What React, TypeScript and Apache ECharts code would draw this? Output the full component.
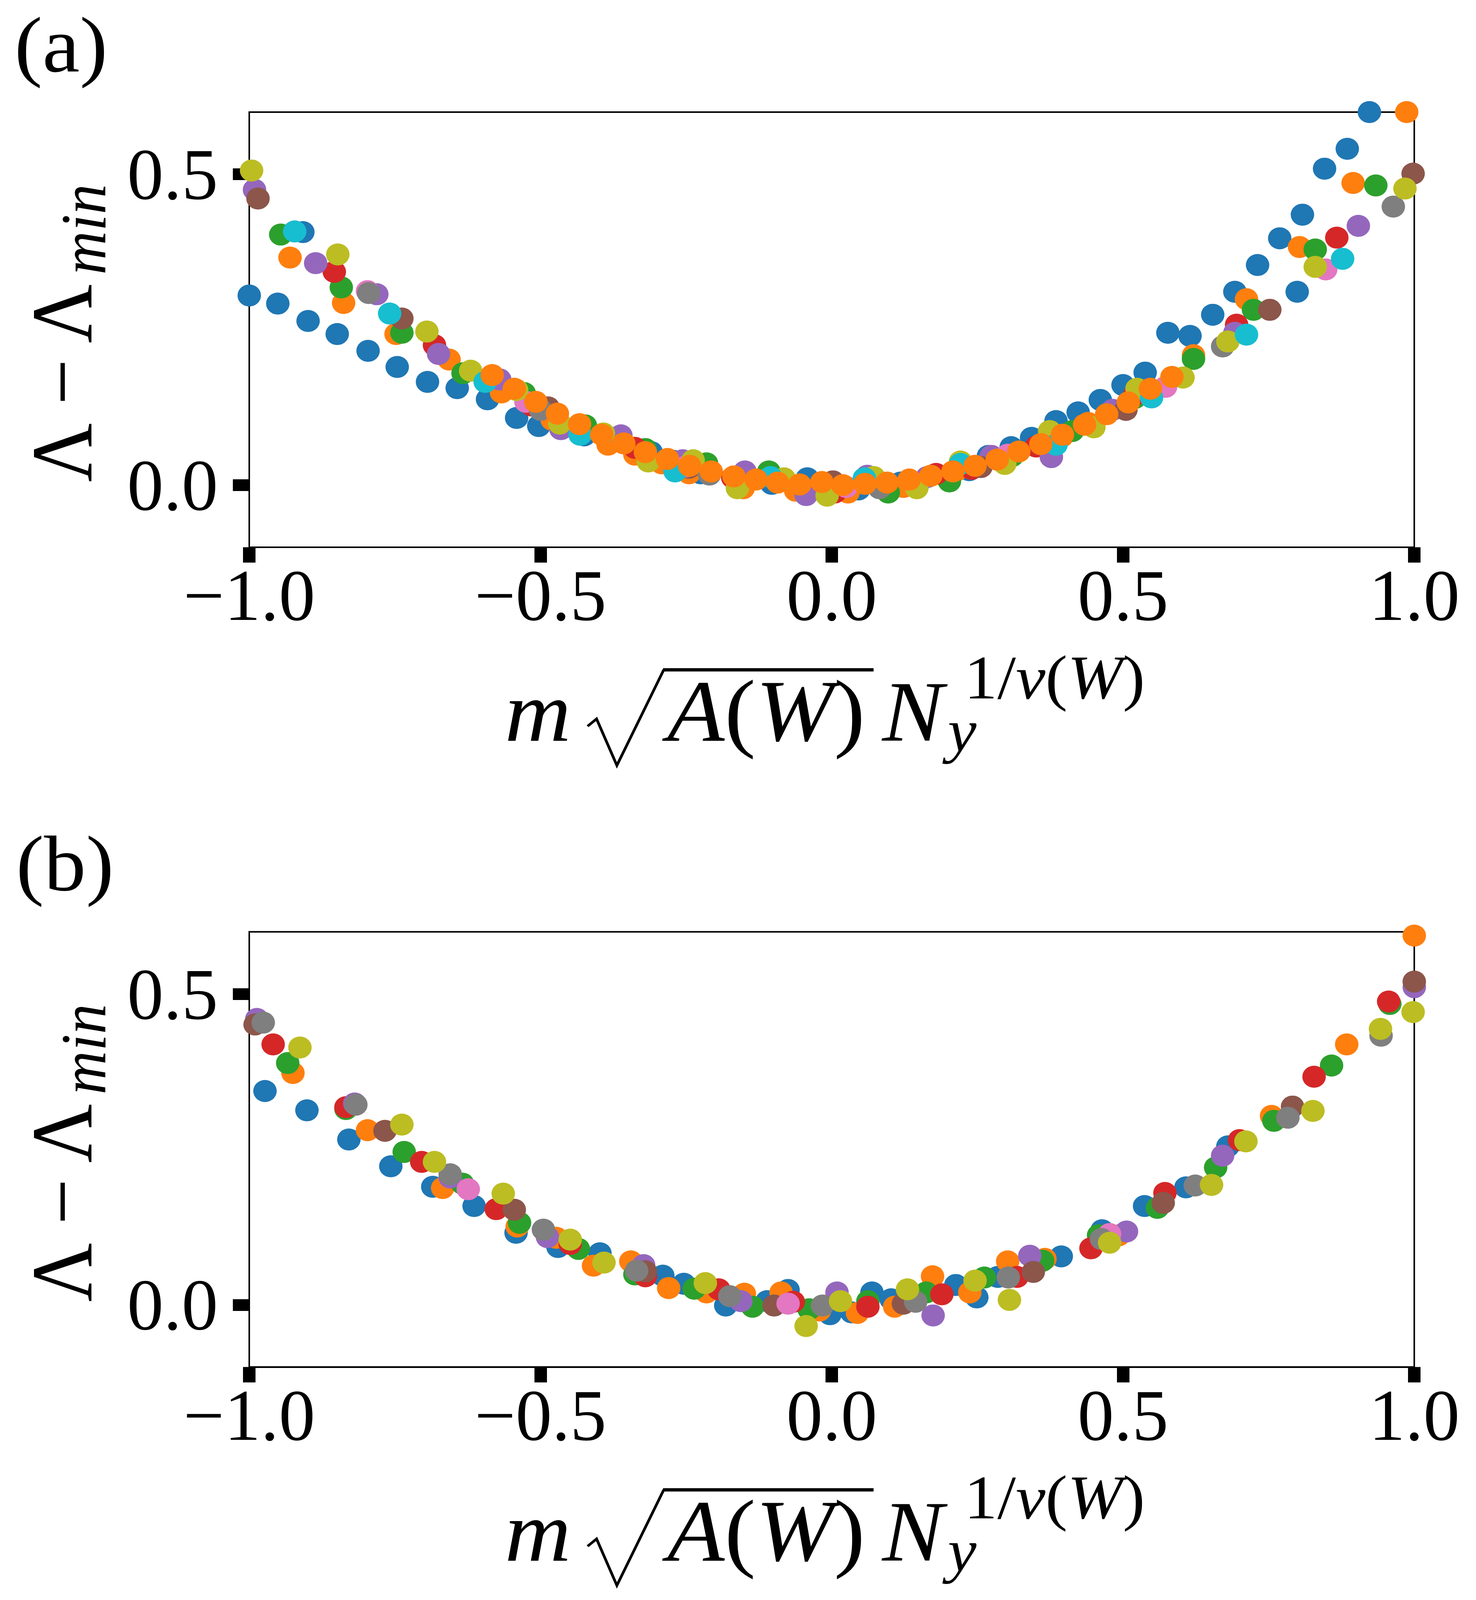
import React, { useEffect, useRef } from "react";
import * as echarts from "echarts";

const FONT = "'Liberation Serif', 'Times New Roman', serif";

const xTicks = [-1, -0.5, 0, 0.5, 1];
const yTicks = [0, 0.5];
const panelLabels = ["(a)", "(b)"];

const C0 = "#1f77b4", C1 = "#ff7f0e", C2 = "#2ca02c", C3 = "#d62728", C4 = "#9467bd";
const C5 = "#8c564b", C6 = "#e377c2", C7 = "#7f7f7f", C8 = "#bcbd22", C9 = "#17becf";

// ---------- panel (a) ----------
const aBlue = [
  [-1.0, 0.305], [-0.951, 0.292], [-0.899, 0.264], [-0.849, 0.243], [-0.796, 0.216], [-0.746, 0.19],
  [-0.694, 0.166], [-0.643, 0.156], [-0.591, 0.138], [-0.541, 0.108], [-0.503, 0.095],
  [-0.908, 0.407], [-0.569, 0.157], [-0.425, 0.08], [-0.31, 0.053], [-0.272, 0.039], [-0.225, 0.019],
  [-0.103, 0.002], [-0.042, 0.011], [0.046, -0.007], [0.118, 0.004], [0.148, 0.002],
  [0.236, 0.024], [0.269, 0.047], [0.308, 0.061], [0.343, 0.076], [0.385, 0.103], [0.423, 0.117],
  [0.461, 0.137], [0.5, 0.161], [0.538, 0.181], [0.577, 0.245], [0.615, 0.24], [0.654, 0.274],
  [0.692, 0.311], [0.731, 0.354], [0.769, 0.397], [0.808, 0.435], [0.846, 0.509], [0.885, 0.541],
  [0.923, 0.6], [0.799, 0.311],
];
const aOrange = [
  [-0.93, 0.366], [-0.838, 0.293], [-0.748, 0.243], [-0.657, 0.202], [-0.567, 0.149], [-0.48, 0.105],
  [-0.384, 0.065], [-0.338, 0.049], [-0.292, 0.035], [-0.245, 0.019], [-0.152, -0.005], [-0.062, -0.009],
  [0.028, -0.012], [0.123, -0.003], [0.215, 0.024], [0.305, 0.046], [0.395, 0.078], [0.44, 0.1],
  [0.53, 0.15], [0.621, 0.209], [0.712, 0.299], [0.803, 0.383], [0.895, 0.486], [0.987, 0.6],
];
const aGreen = [
  [-0.946, 0.403], [-0.842, 0.318], [-0.738, 0.245], [-0.633, 0.18], [-0.528, 0.148], [-0.423, 0.096],
  [-0.32, 0.058], [-0.215, 0.035], [-0.108, 0.022], [0.097, -0.012], [0.202, 0.006], [0.31, 0.047],
  [0.413, 0.087], [0.52, 0.14], [0.621, 0.203], [0.724, 0.282], [0.83, 0.379], [0.934, 0.482],
];
const aRed = [
  [-0.854, 0.343], [-0.682, 0.225], [-0.515, 0.128], [-0.338, 0.06], [-0.17, 0.012], [0.005, -0.012],
  [0.179, 0.018], [0.24, 0.026], [0.351, 0.062], [0.52, 0.145], [0.695, 0.258], [0.867, 0.398],
];
const aPurple = [
  [-0.991, 0.475], [-0.886, 0.357], [-0.781, 0.307], [-0.675, 0.211], [-0.57, 0.17], [-0.465, 0.09],
  [-0.362, 0.08], [-0.256, 0.04], [-0.149, 0.022], [-0.044, -0.016], [0.061, 0.015], [0.164, 0.013],
  [0.274, 0.047], [0.377, 0.045], [0.482, 0.121], [0.692, 0.245], [0.904, 0.417],
];
const aBrown = [
  [-0.985, 0.461], [-0.738, 0.268], [-0.487, 0.125], [-0.245, 0.028], [0.002, 0.006], [0.256, 0.029],
  [0.505, 0.121], [0.752, 0.282], [0.998, 0.501],
];
const aPink = [
  [-0.797, 0.312], [-0.525, 0.134], [-0.25, 0.03], [0.025, -0.003], [0.302, 0.049], [0.573, 0.158], [0.848, 0.347],
];
const aGray = [
  [-0.795, 0.309], [-0.5, 0.121], [-0.21, 0.017], [0.082, -0.005], [0.375, 0.08], [0.671, 0.223], [0.964, 0.448],
];
const aOlive = [
  [-0.996, 0.506], [-0.848, 0.371], [-0.695, 0.247], [-0.62, 0.184], [-0.541, 0.153], [-0.467, 0.099],
  [-0.392, 0.083], [-0.315, 0.038], [-0.238, 0.04], [-0.162, -0.005], [-0.082, 0.011], [-0.008, -0.017],
  [0.072, 0.013], [0.146, -0.005], [0.221, 0.038], [0.297, 0.034], [0.374, 0.087], [0.45, 0.093],
  [0.524, 0.155], [0.603, 0.173], [0.68, 0.231], [0.83, 0.351], [0.984, 0.477],
];
const aCyan = [
  [-0.922, 0.408], [-0.759, 0.276], [-0.595, 0.166], [-0.432, 0.081], [-0.269, 0.022], [-0.105, 0.013],
  [0.056, 0.011], [0.221, 0.034], [0.385, 0.065], [0.549, 0.141], [0.712, 0.242], [0.877, 0.364],
];
const aOrangeTop = [
  [-0.583, 0.177], [-0.545, 0.155], [-0.508, 0.134], [-0.471, 0.115], [-0.433, 0.098], [-0.395, 0.081],
  [-0.357, 0.067], [-0.32, 0.053], [-0.282, 0.042], [-0.244, 0.031], [-0.207, 0.022], [-0.168, 0.014],
  [-0.13, 0.009], [-0.093, 0.004], [-0.055, 0.001], [-0.017, 0.005], [0.019, 0.0], [0.057, 0.002],
  [0.095, 0.004], [0.133, 0.009], [0.17, 0.015], [0.208, 0.022], [0.246, 0.031], [0.284, 0.041],
  [0.321, 0.054], [0.359, 0.066], [0.396, 0.081], [0.434, 0.097], [0.472, 0.114], [0.509, 0.133],
  [0.547, 0.155], [0.584, 0.174],
];

// ---------- panel (b) ----------
const bBlue = [
  [-0.973, 0.344], [-0.901, 0.313], [-0.829, 0.266], [-0.757, 0.223], [-0.685, 0.19], [-0.614, 0.159],
  [-0.542, 0.116], [-0.47, 0.093], [-0.398, 0.083], [-0.29, 0.047], [-0.254, 0.034], [-0.182, -0.001],
  [-0.111, 0.006], [-0.075, 0.024], [-0.003, -0.015], [0.034, -0.012], [0.069, 0.02], [0.102, 0.009],
  [0.213, 0.032], [0.249, 0.012], [0.285, 0.045], [0.394, 0.078], [0.464, 0.12], [0.537, 0.159],
  [0.608, 0.189], [0.68, 0.255],
];
const bOrange = [
  [-0.925, 0.373], [-0.797, 0.281], [-0.668, 0.188], [-0.54, 0.126], [-0.473, 0.108], [-0.409, 0.063],
  [-0.345, 0.07], [-0.28, 0.027], [-0.215, 0.02], [-0.15, 0.018], [-0.087, 0.02], [-0.021, -0.009],
  [0.044, -0.013], [0.108, -0.003], [0.173, 0.046], [0.237, 0.02], [0.302, 0.07], [0.366, 0.074],
  [0.493, 0.112], [0.755, 0.304], [0.884, 0.419], [1.0, 0.594],
];
const bGreen = [
  [-0.934, 0.389], [-0.834, 0.315], [-0.734, 0.246], [-0.634, 0.195], [-0.536, 0.132], [-0.435, 0.09],
  [-0.338, 0.049], [-0.236, 0.026], [-0.136, -0.003], [-0.039, -0.007], [0.062, 0.006], [0.162, 0.02],
  [0.262, 0.044], [0.362, 0.071], [0.458, 0.112], [0.559, 0.156], [0.659, 0.221], [0.759, 0.296],
  [0.858, 0.385], [0.958, 0.484],
];
const bRed = [
  [-0.959, 0.419], [-0.834, 0.318], [-0.704, 0.23], [-0.576, 0.154], [-0.449, 0.098], [-0.32, 0.046],
  [-0.194, 0.025], [-0.066, 0.005], [0.062, -0.003], [0.189, 0.017], [0.318, 0.045], [0.445, 0.091],
  [0.572, 0.18], [0.7, 0.265], [0.828, 0.367], [0.956, 0.488],
];
const bPurple = [
  [-0.987, 0.46], [-0.819, 0.324], [-0.655, 0.205], [-0.488, 0.109], [-0.323, 0.064], [-0.156, 0.006],
  [0.009, 0.02], [0.174, -0.017], [0.34, 0.079], [0.506, 0.118], [0.671, 0.24], [1.0, 0.511],
];
const bBrown = [
  [-0.99, 0.451], [-0.767, 0.28], [-0.545, 0.153], [-0.32, 0.054], [-0.099, -0.001], [0.123, 0.002],
  [0.346, 0.053], [0.569, 0.164], [0.791, 0.319], [1.0, 0.52],
];
const bPink = [[-0.624, 0.186], [-0.075, 0.002], [0.477, 0.114]];
const bGray = [
  [-0.976, 0.454], [-0.817, 0.322], [-0.655, 0.21], [-0.495, 0.121], [-0.335, 0.055], [-0.175, 0.014],
  [-0.016, -0.001], [0.144, 0.005], [0.303, 0.044], [0.463, 0.106], [0.624, 0.192], [0.783, 0.301],
  [0.943, 0.433],
];
const bOlive = [
  [-0.913, 0.414], [-0.738, 0.29], [-0.682, 0.23], [-0.564, 0.179], [-0.449, 0.105], [-0.391, 0.068],
  [-0.217, 0.035], [-0.044, -0.034], [0.015, 0.006], [0.13, 0.025], [0.246, 0.039], [0.305, 0.008],
  [0.477, 0.1], [0.652, 0.193], [0.711, 0.263], [0.826, 0.312], [0.942, 0.444], [0.998, 0.471],
];

const panelA = [
  [aBlue, C0], [aOrange, C1], [aGreen, C2], [aRed, C3], [aPurple, C4], [aBrown, C5],
  [aPink, C6], [aGray, C7], [aOlive, C8], [aCyan, C9], [aOrangeTop, C1],
];
const panelB = [
  [bBlue, C0], [bOrange, C1], [bGreen, C2], [bRed, C3], [bPurple, C4], [bBrown, C5],
  [bPink, C6], [bGray, C7], [bOlive, C8],
];

// reference layout (3778 x 4368 design), y gets normalised to the real viewport height
const REF_W = 3778;
const REF_H = 4368;
const GRID_LEFT = 638;
const GRID_W = 2982;
const GRID_H = 1188;
const TOPS = [306, 2544];

const fmt = (v: number) => {
  const s = v.toFixed(1);
  return s.startsWith("-") ? "\u2212" + s.slice(1) : s;
};

const mid = (baseline: number, fs: number) => baseline - 0.3375 * fs;

function txt(x: number, y: number, text: string, fs: number, italic = false) {
  return {
    type: "text",
    x,
    y,
    style: {
      text,
      font: `${italic ? "italic " : ""}${fs}px ${FONT}`,
      fontSize: fs,
      fontFamily: FONT,
      fontStyle: italic ? "italic" : "normal",
      fill: "#000",
      align: "left",
      textAlign: "left",
      verticalAlign: "middle",
      textVerticalAlign: "middle",
    },
  };
}

function richMath(x: number, baseline: number, text: string, fs: number) {
  return {
    type: "text",
    x,
    y: mid(baseline, fs),
    style: {
      text,
      fill: "#000",
      align: "left",
      verticalAlign: "middle",
      rich: {
        i: { fontStyle: "italic", fontSize: fs, fontFamily: FONT, color: "#000" },
        r: { fontStyle: "normal", fontSize: fs, fontFamily: FONT, color: "#000" },
      },
    },
  };
}

function xTitle(dy: number) {
  const b = 2022 + dy;
  return [
    txt(1292, mid(b, 235), "m", 235, true),
    {
      type: "polyline",
      shape: { points: [[1504, b - 40], [1527, b - 60], [1579, b + 67], [1699, b - 194]] },
      style: { stroke: "#000", lineWidth: 7, fill: "none" },
    },
    {
      type: "line",
      shape: { x1: 1697, y1: b - 194, x2: 2236, y2: b - 194 },
      style: { stroke: "#000", lineWidth: 9 },
    },
    richMath(1708, b, "{i|A}{r|(}{i|W}{r|)}", 240),
    txt(2258, mid(b, 235), "N", 235, true),
    txt(2426, mid(b + 29, 165), "y", 165, true),
    richMath(2468, b - 115, "{r|1/}{i|\u03bd}{r|(}{i|W}{r|)}", 170),
  ];
}

function yTitle(dy: number) {
  return {
    type: "group",
    x: 234,
    y: 1316 + dy,
    rotation: Math.PI / 2,
    children: [
      txt(0, -0.3375 * 222, "\u039b \u2212 \u039b", 222, false),
      txt(566, 36 - 0.3375 * 165, "min", 165, true),
    ],
  };
}

function axesFor(idx: number, sy: number) {
  const xAxis = {
    type: "value",
    gridIndex: idx,
    min: -1,
    max: 1,
    interval: 0.5,
    axisLine: { show: true, onZero: false, lineStyle: { color: "#000", width: 4 } },
    axisTick: {
      show: true,
      inside: false,
      length: 42 * sy,
      customValues: xTicks,
      lineStyle: { color: "#000", width: 32 },
    },
    axisLabel: {
      show: true,
      customValues: xTicks,
      formatter: (v: number) => fmt(v),
      fontSize: 186,
      fontFamily: FONT,
      color: "#000",
      margin: 32 * sy,
      showMinLabel: true,
      showMaxLabel: true,
      hideOverlap: false,
    },
    splitLine: { show: false },
  };
  const yAxis = {
    type: "value",
    gridIndex: idx,
    min: -0.1,
    max: 0.6,
    axisLine: { show: true, onZero: false, lineStyle: { color: "#000", width: 4 } },
    axisTick: {
      show: true,
      inside: false,
      length: 42,
      customValues: yTicks,
      lineStyle: { color: "#000", width: 32 * sy },
    },
    axisLabel: {
      show: true,
      customValues: yTicks,
      formatter: (v: number) => fmt(v),
      fontSize: 186,
      fontFamily: FONT,
      color: "#000",
      margin: 80,
    },
    splitLine: { show: false },
  };
  return { xAxis, yAxis };
}

function viewportHeight() {
  const h = typeof window !== "undefined" ? window.innerHeight : REF_H;
  return h && h > 1000 ? Math.min(h, REF_H) : REF_H;
}

export default function App() {
  const ref = useRef<HTMLDivElement>(null);
  const H = viewportHeight();
  useEffect(() => {
    if (!ref.current) return;
    const sy = H / REF_H;
    const chart = echarts.init(ref.current, undefined, { renderer: "svg" });
    const a0 = axesFor(0, sy);
    const a1 = axesFor(1, sy);
    const series: any[] = [];
    [panelA, panelB].forEach((panel, gi) => {
      panel.forEach(([data, color]: any, si) => {
        series.push({
          type: "scatter",
          name: `p${gi}s${si}`,
          xAxisIndex: gi,
          yAxisIndex: gi,
          data,
          symbol: "circle",
          symbolSize: [60, 60 * sy],
          clip: true,
          itemStyle: { color, opacity: 1 },
          emphasis: { disabled: true },
          z: 2,
        });
      });
    });
    chart.setOption({
      animation: false,
      backgroundColor: "#ffffff",
      grid: TOPS.map((t) => ({
        left: GRID_LEFT,
        top: t * sy,
        width: GRID_W,
        height: GRID_H * sy,
        show: true,
        borderColor: "#000",
        borderWidth: 4,
        backgroundColor: "transparent",
        containLabel: false,
      })),
      xAxis: [a0.xAxis, a1.xAxis],
      yAxis: [a0.yAxis, a1.yAxis],
      series,
      graphic: [
        {
          type: "group",
          x: 0,
          y: 0,
          scaleX: 1,
          scaleY: sy,
          children: [
            txt(37, 122, panelLabels[0], 215),
            txt(41, 2358, panelLabels[1], 215),
            ...xTitle(0),
            ...xTitle(2238),
            yTitle(0),
            yTitle(2238),
          ],
        },
      ],
    });
    return () => chart.dispose();
  }, [H]);
  return (
    <div
      ref={ref}
      style={{ position: "absolute", left: 0, top: 0, width: REF_W, height: H, background: "#fff" }}
    />
  );
}
